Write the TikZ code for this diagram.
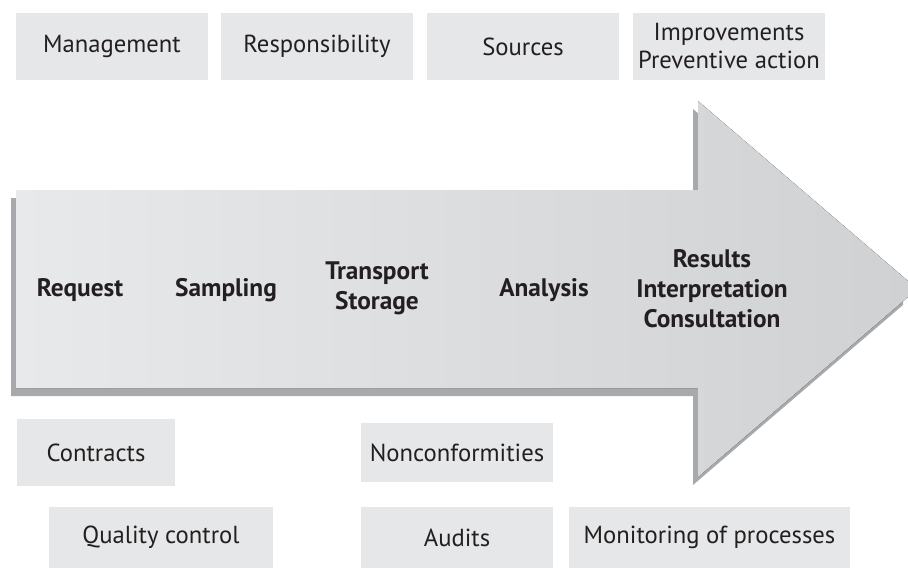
\documentclass[tikz,border=0pt]{standalone}
\usepackage{fontspec}
\setmainfont{PT Sans}
\usepackage{tikz}

\definecolor{boxgray}{HTML}{E6E7E8}
\definecolor{shadowgray}{HTML}{A7A9AC}
\definecolor{arrowlight}{HTML}{E8E9EA}
\definecolor{arrowdark}{HTML}{CFD1D3}
\definecolor{inkdark}{HTML}{231F20}

\begin{document}
\begin{tikzpicture}[
    x=0.75pt, y=-0.75pt,
    every node/.style={anchor=center},
    box/.style={fill=boxgray, inner sep=0pt, align=center, text=inkdark,
        font=\fontsize{18.5}{21}\selectfont},
    topbox/.style={box, minimum width=144pt, minimum height=50.25pt},
    stage/.style={align=center, text=inkdark,
        font=\fontsize{19}{22.5}\selectfont\bfseries}
    ]
\useasboundingbox (0,0) rectangle (908,568);

% Big process arrow (shadow, then face)
\fill[shadowgray] (11,198) -- (693,198) -- (693,109) -- (903,289) -- (903,305)
    -- (693,485) -- (693,396) -- (11,396) -- cycle;
\fill[left color=arrowlight, right color=arrowdark] (16,190) -- (698,190) -- (698,101)
    -- (908,281) -- (908,297) -- (698,477) -- (698,388) -- (16,388) -- cycle;

% Stages on the arrow
\node[stage] (request) at (80,290) {Request};
\node[stage] (sampling) at (226,290) {Sampling};
\node[stage] (transport) at (377,288) {Transport\\Storage};
\node[stage] (analysis) at (544,290) {Analysis};
\node[stage] (results) at (712,289) {Results\\Interpretation\\Consultation};

% Top boxes
\node[topbox] (management) at (112,46.5) {Management};
\node[topbox] (responsibility) at (317,46.5) {Responsibility};
\node[topbox] (sources) at (523,46.5) {Sources};
\node[topbox] (improvements) at (729,46.5) {Improvements\\Preventive action};

% Bottom boxes
\node[box, minimum width=118.5pt, minimum height=50.25pt] (contracts) at (96,452.5) {Contracts};
\node[box, minimum width=144pt, minimum height=44.25pt] (nonconf) at (457,452.5) {Nonconformities};
\node[box, minimum width=168pt, minimum height=45.75pt] (quality) at (161,537.5) {Quality control};
\node[box, minimum width=144pt, minimum height=45.75pt] (audits) at (457,537.5) {Audits};
\node[box, minimum width=210.75pt, minimum height=45.75pt] (monitoring) at (709.5,537.5) {Monitoring of processes};

\end{tikzpicture}
\end{document}
